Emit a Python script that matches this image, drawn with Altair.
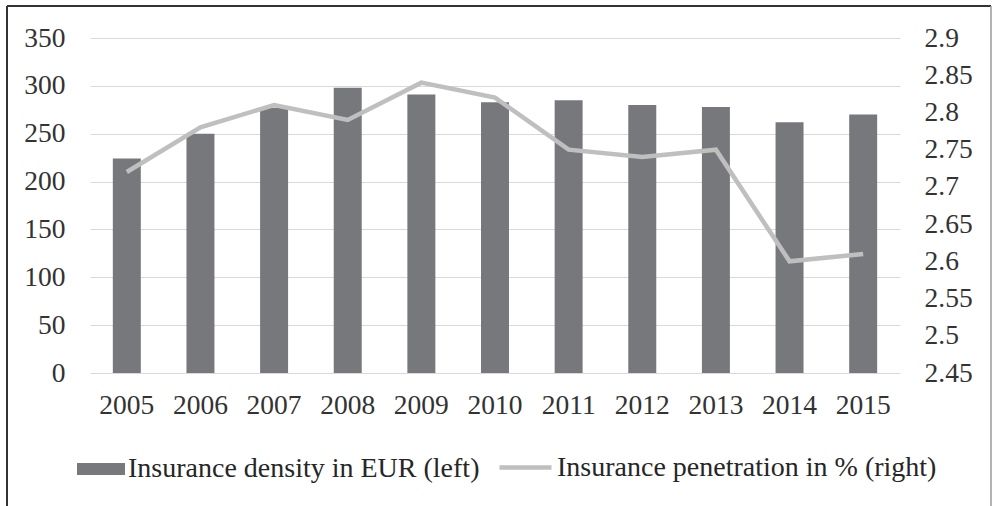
import altair as alt
import pandas as pd

years = ["2005", "2006", "2007", "2008", "2009", "2010", "2011", "2012", "2013", "2014", "2015"]
density = [224, 250, 277, 298, 291, 283, 285, 280, 278, 262, 270]
penetration = [2.72, 2.78, 2.81, 2.79, 2.84, 2.82, 2.75, 2.74, 2.75, 2.60, 2.61]
left_ticks = [0, 50, 100, 150, 200, 250, 300, 350]
right_ticks = [2.45, 2.5, 2.55, 2.6, 2.65, 2.7, 2.75, 2.8, 2.85, 2.9]
bar_name = "Insurance density in EUR (left)"
line_name = "Insurance penetration in % (right)"

BAR_COLOR = "#77787b"
LINE_COLOR = "#bfbfbf"
FONT = "Liberation Serif"
FS = 27.5
LFS = 28

df = pd.DataFrame({
    "year": years,
    "density": density,
    "penetration": penetration,
    "s1": [bar_name] * len(years),
    "s2": [line_name] * len(years),
})

x_enc = alt.X(
    "year:O",
    scale=alt.Scale(paddingInner=0.62, paddingOuter=0.31),
    axis=alt.Axis(title=None, labelAngle=0, ticks=False, domain=False, labelPadding=18,
                  labelFontSize=FS, labelFont=FONT, labelColor="#333333"),
)

bars = alt.Chart(df).mark_bar(color=BAR_COLOR).encode(
    x=x_enc,
    y=alt.Y("density:Q",
            scale=alt.Scale(domain=[0, 350], nice=False),
            axis=alt.Axis(title=None, values=left_ticks, ticks=False, domain=False,
                          grid=True, gridColor="#d9d9d9", gridWidth=1.2,
                          labelPadding=25, labelFontSize=FS, labelFont=FONT,
                          labelColor="#333333")),
    fill=alt.Fill("s1:N", scale=alt.Scale(domain=[bar_name], range=[BAR_COLOR]),
                  legend=alt.Legend(title=None, orient="none", legendX=-13, legendY=407,
                                    symbolType="M-1,-0.25H1V0.25H-1Z", symbolSize=2304,
                                    symbolStrokeWidth=0, labelFont=FONT, labelFontSize=LFS,
                                    labelLimit=0, labelColor="#262626", labelOffset=3,
                                    padding=0, offset=0)),
)

line = alt.Chart(df).mark_line(strokeWidth=4.5, color=LINE_COLOR).encode(
    x=x_enc,
    y=alt.Y("penetration:Q",
            scale=alt.Scale(domain=[2.45, 2.9], nice=False, zero=False),
            axis=alt.Axis(title=None, orient="right", values=right_ticks, format=".2~f",
                          ticks=False, domain=False, grid=False, labelPadding=24,
                          labelFontSize=FS, labelFont=FONT, labelColor="#333333")),
    stroke=alt.Stroke("s2:N", scale=alt.Scale(domain=[line_name], range=[LINE_COLOR]),
                      legend=alt.Legend(title=None, orient="none", legendX=407, legendY=401,
                                        symbolType="stroke", symbolSize=2704,
                                        symbolStrokeWidth=4.5, labelFont=FONT, labelFontSize=LFS,
                                        labelLimit=0, labelColor="#262626", labelOffset=3,
                                        padding=0, offset=0)),
)

frame_df = pd.DataFrame({"a": [0]})
frame_left = alt.Chart(frame_df).mark_rule(color="#333333", strokeWidth=2).encode(
    x=alt.value(-83), y=alt.value(-32), y2=alt.value(480))
frame_top = alt.Chart(frame_df).mark_rule(color="#333333", strokeWidth=2).encode(
    x=alt.value(-83), x2=alt.value(901), y=alt.value(-32))
frame_right = alt.Chart(frame_df).mark_rule(color="#9a9a9a", strokeWidth=1.5).encode(
    x=alt.value(901), y=alt.value(-32), y2=alt.value(480))

chart = alt.layer(bars, line, frame_left, frame_top, frame_right).resolve_scale(
    y="independent", fill="independent", stroke="independent"
).properties(
    width=810, height=335,
    autosize=alt.AutoSizeParams(type="none"),
    padding={"left": 90, "top": 38, "right": 94, "bottom": 133},
    background="white",
).configure_view(stroke=None)

chart.save("out.html", embed_options={"renderer": "svg", "actions": False})
